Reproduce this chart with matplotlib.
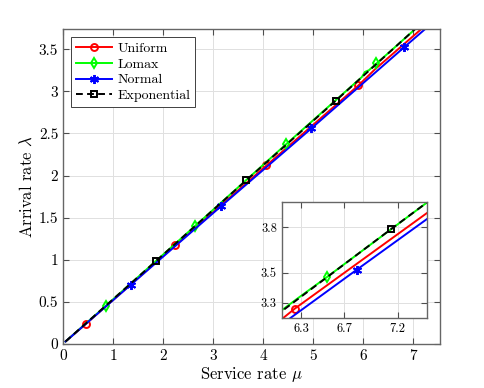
import matplotlib
matplotlib.use('Agg')
from matplotlib import pyplot as plt
from matplotlib.ticker import FormatStrFormatter

plt.rcParams['font.family'] = 'cmr10'
plt.rcParams['mathtext.fontset'] = 'cm'
plt.rcParams['axes.formatter.use_mathtext'] = True

# Service rate mu and arrival rate lambda for each distribution
uniform_mu = [0.05, 0.46, 2.24, 4.07, 5.91, 6.24, 7.5]
uniform_lam = [0.03, 0.24, 1.17, 2.12, 3.07, 3.26, 3.91]
lomax_mu = [0.05, 0.85, 2.64, 4.46, 5.98, 6.04, 6.12, 6.27, 6.54, 7.5]
lomax_lam = [0.03, 0.45, 1.40, 2.37, 3.17, 3.23, 3.25, 3.33, 3.47, 3.98]
normal_mu = [0.05, 1.35, 3.17, 4.97, 6.82, 7.5]
normal_lam = [0.03, 0.70, 1.64, 2.56, 3.52, 3.87]
expo_mu = [0.05, 1.85, 3.67, 5.46, 7.14, 7.5]
expo_lam = [0.03, 0.98, 1.945, 2.89, 3.79, 3.98]

labels = ['Uniform', 'Lomax', 'Normal', 'Exponential']
x_ticks = [0, 1, 2, 3, 4, 5, 6, 7]
y_ticks = [0, 0.5, 1, 1.5, 2, 2.5, 3, 3.5]
inset_x_ticks = [6.3, 6.7, 7.2]
inset_y_ticks = [3.3, 3.5, 3.8]

# asterisk like matlab's '*'
star = (6, 2, 0)

# (mu, lam, colour, marker, size, linestyle, main marker idx, inset marker idx)
series = [
    (uniform_mu, uniform_lam, 'red', 'o', 5, '-', [1, 2, 3, 4], [5]),
    (lomax_mu, lomax_lam, 'lime', 'd', 5.5, '-', [1, 2, 3, 7], [8]),
    (normal_mu, normal_lam, 'blue', star, 6.5, '-', [1, 2, 3, 4], [4]),
    (expo_mu, expo_lam, 'black', 's', 4.5, (0, (3.5, 2.2)), [1, 2, 3], [4]),
]


def style_axes(ax, size):
    ax.tick_params(direction='in', top=True, right=True, length=4,
                   width=0.8, color='0.3', labelsize=size)
    for sp in ax.spines.values():
        sp.set_color('0.4')
        sp.set_linewidth(1.0)
    ax.grid(True, color='0.88', linewidth=0.7)
    ax.set_axisbelow(True)


fig = plt.figure(figsize=(4.85, 3.88), dpi=100)
ax = fig.add_axes([0.13, 0.1134, 0.777, 0.812])

for (mu, lam, col, mk, ms, ls, idx, _), lab in zip(series, labels):
    ax.plot(mu, lam, color=col, linestyle=ls, linewidth=1.4, marker=mk,
            markersize=ms, markerfacecolor='none', markeredgecolor=col,
            markeredgewidth=1.4, markevery=idx, label=lab)

ax.set_xlim(0, 7.54)
ax.set_ylim(0, 3.74)
ax.set_xticks(x_ticks)
ax.set_yticks(y_ticks)
ax.xaxis.set_major_formatter(FormatStrFormatter('%g'))
ax.yaxis.set_major_formatter(FormatStrFormatter('%g'))
style_axes(ax, 11)
ax.set_xlabel(r'Service rate $\mu$', fontsize=12, labelpad=2)
ax.set_ylabel(r'Arrival rate $\lambda$', fontsize=12, labelpad=3)

leg = ax.legend(loc='upper left', fontsize=10, labelspacing=0.22,
                handlelength=2.6, handletextpad=0.35, borderpad=0.35,
                borderaxespad=0.6, fancybox=False, framealpha=1)
leg.get_frame().set_edgecolor('0.25')
leg.get_frame().set_linewidth(0.7)

# zoomed inset
ins = fig.add_axes([0.581, 0.181, 0.299, 0.299])
for mu, lam, col, mk, ms, ls, _, idx in series:
    ins.plot(mu, lam, color=col, linestyle=ls, linewidth=1.4, marker=mk,
             markersize=ms, markerfacecolor='none', markeredgecolor=col,
             markeredgewidth=1.4, markevery=idx)
ins.set_xlim(6.12, 7.47)
ins.set_ylim(3.2, 3.97)
ins.set_xticks(inset_x_ticks)
ins.set_yticks(inset_y_ticks)
ins.xaxis.set_major_formatter(FormatStrFormatter('%g'))
ins.yaxis.set_major_formatter(FormatStrFormatter('%g'))
style_axes(ins, 9)
ins.set_facecolor('white')

fig.savefig('out.png', dpi=100)
